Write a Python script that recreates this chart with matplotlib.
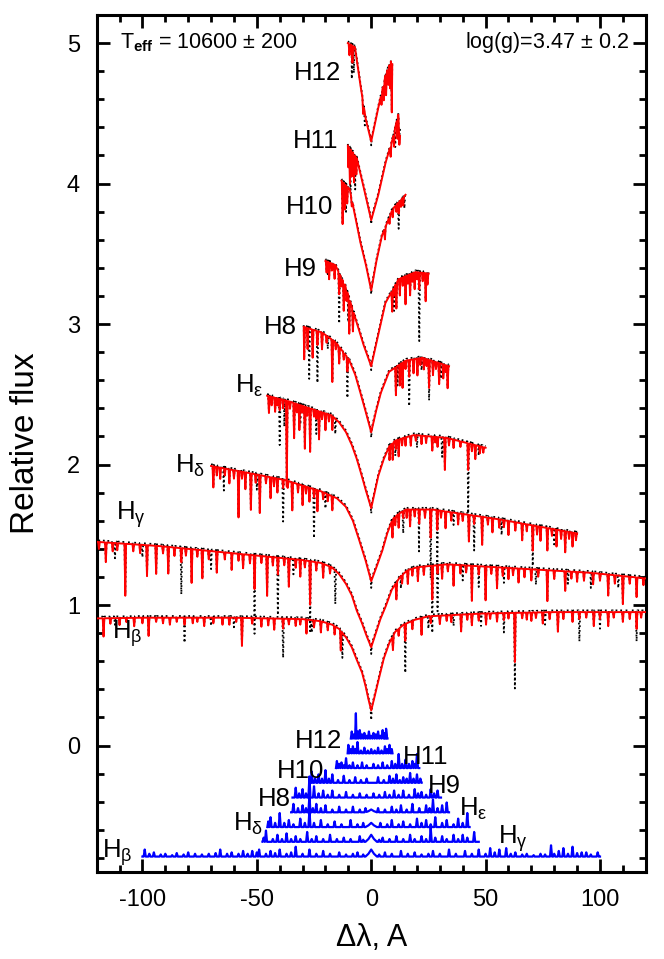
import numpy as np
import matplotlib.pyplot as plt
from matplotlib.ticker import MultipleLocator

plt.rcParams['font.family'] = ['Liberation Sans', 'DejaVu Sans']
plt.rcParams['mathtext.fontset'] = 'custom'
plt.rcParams['mathtext.rm'] = 'Liberation Sans'
plt.rcParams['mathtext.it'] = 'Liberation Sans:italic'
plt.rcParams['mathtext.bf'] = 'Liberation Sans:bold'
plt.rcParams['axes.unicode_minus'] = False

# ---- model profiles (smooth envelope) ----
hb_x = [-120, -100, -60, -30, -22, -17, -14, -11, -8.5, -6.3, -4, -2.4, -1.2, 0, 1.5, 3.1, 5.5, 7.9, 10.5, 14.1, 19, 25, 48.6, 80, 120]
hb_y = [0.905, 0.91, 0.91, 0.90, 0.885, 0.86, 0.83, 0.77, 0.70, 0.61, 0.52, 0.42, 0.33, 0.25, 0.35, 0.46, 0.62, 0.73, 0.81, 0.86, 0.895, 0.92, 0.94, 0.95, 0.95]
hg_x = [-120, -92.6, -61.2, -29.8, -22, -17.3, -14, -11, -8.5, -6.3, -4, -2, 0, 2, 4, 6.3, 9, 12.6, 16, 20.4, 33, 64.4, 95.8, 120]
hg_y = [1.45, 1.42, 1.37, 1.32, 1.30, 1.27, 1.22, 1.15, 1.07, 0.96, 0.87, 0.78, 0.70, 0.80, 0.90, 0.99, 1.11, 1.20, 1.25, 1.27, 1.29, 1.26, 1.23, 1.19]
hd_x = [-70, -53.5, -37.7, -22, -15, -11.1, -8, -5.2, -2.5, 0, 2.5, 4.9, 7, 9.3, 12, 15.2, 26.8, 56, 90]
hd_y = [1.99, 1.94, 1.89, 1.81, 1.76, 1.70, 1.60, 1.46, 1.32, 1.17, 1.28, 1.39, 1.51, 1.61, 1.65, 1.68, 1.68, 1.61, 1.51]
he_x = [-45.5, -36, -26.7, -17.3, -14, -11, -8.5, -6.3, -4.3, -2.4, 0, 1.5, 3.1, 5.5, 7.9, 10.5, 14.1, 18.8, 33, 50]
he_y = [2.49, 2.45, 2.40, 2.35, 2.30, 2.23, 2.14, 2.04, 1.93, 1.82, 1.69, 1.80, 1.92, 2.04, 2.13, 2.17, 2.19, 2.21, 2.19, 2.12]
h8_x = [-29.5, -21.5, -15.5, -9.8, -7, -4.7, -2.3, 0, 2.1, 4.2, 7.8, 15, 22.4, 34]
h8_y = [2.98, 2.94, 2.87, 2.75, 2.64, 2.51, 2.37, 2.23, 2.38, 2.51, 2.66, 2.74, 2.76, 2.70]
h9_x = [-20, -15.7, -11.3, -6.9, -3.3, 0, 2.6, 6.2, 12, 19.3, 25.1]
h9_y = [3.45, 3.42, 3.27, 3.04, 2.85, 2.70, 2.89, 3.15, 3.32, 3.37, 3.36]
h10_x = [-13, -9.4, -4.7, -2.3, 0, 2.3, 4.7, 9.4, 15]
h10_y = [4.02, 3.96, 3.58, 3.42, 3.24, 3.45, 3.63, 3.82, 3.92]
h11_x = [-10.2, -6.3, -3.1, 0, 3.1, 6.3, 9.4, 11.8, 12.6]
h11_y = [4.27, 4.18, 3.96, 3.74, 3.92, 4.15, 4.32, 4.49, 4.34]
h12_x = [-10.2, -7.1, -4.7, -2.4, 0, 3.1, 6.3, 8.6, 9.2]
h12_y = [5.0, 4.97, 4.70, 4.46, 4.30, 4.54, 4.77, 4.87, 4.85]

# ---- metal lines: (position, depth) for model (red) and extra ones in the observed (dotted) ----
hb_dips = [(-117, 0.13), (-114, 0.04), (-110, 0.05), (-107, 0.03), (-103.6, 0.06), (-100, 0.04), (-97.3, 0.13), (-94, 0.03), (-91, 0.04), (-88, 0.05), (-85, 0.03), (-81.6, 0.05), (-78, 0.04), (-76, 0.03), (-73, 0.06), (-69, 0.04), (-65, 0.05), (-62, 0.05), (-59, 0.03), (-56.5, 0.2), (-52, 0.04), (-48, 0.06), (-45, 0.05), (-42.4, 0.08), (-38.5, 0.07), (-36, 0.04), (-33, 0.05), (-31, 0.04), (-28.3, 0.1), (-25, 0.05), (-22, 0.08), (-19, 0.05), (-16, 0.06), (-13.3, 0.14), (9.5, 0.1), (12, 0.05), (14.9, 0.12), (18, 0.06), (22, 0.12), (26, 0.05), (30, 0.06), (33, 0.04), (35, 0.05), (39.3, 0.12), (42, 0.04), (44, 0.08), (47, 0.05), (50.2, 0.08), (52, 0.04), (55, 0.06), (58, 0.05), (60, 0.04), (62.8, 0.35), (66, 0.04), (68, 0.05), (70, 0.06), (72, 0.04), (75, 0.08), (78, 0.05), (81.6, 0.14), (84, 0.05), (88, 0.07), (91, 0.05), (94, 0.04), (97.3, 0.1), (100, 0.05), (103.6, 0.1), (106, 0.04), (110, 0.07), (113, 0.05), (116, 0.12), (118, 0.04)]
hb_obs = [(-112, 0.06), (-81.6, 0.14), (-70, 0.07), (-60, 0.08), (-38.5, 0.22), (-26, 0.1), (-12.6, 0.19), (0, 0.08), (14.9, 0.24), (25, 0.1), (36, 0.09), (48, 0.1), (58, 0.1), (62.8, 0.2), (76, 0.1), (91, 0.17), (100, 0.08), (116, 0.1)]
hg_dips = [(-119, 0.05), (-116, 0.14), (-113, 0.06), (-111, 0.05), (-107.5, 0.37), (-104, 0.05), (-101, 0.06), (-98, 0.22), (-94, 0.2), (-91, 0.05), (-88.7, 0.19), (-86, 0.06), (-83, 0.1), (-81, 0.05), (-78.5, 0.24), (-76, 0.05), (-73.8, 0.2), (-71, 0.06), (-67.5, 0.15), (-64, 0.05), (-61, 0.12), (-58, 0.05), (-56, 0.1), (-53, 0.06), (-51, 0.24), (-48, 0.05), (-45.5, 0.28), (-43, 0.06), (-40.8, 0.12), (-38, 0.05), (-36, 0.2), (-33, 0.06), (-31, 0.12), (-29, 0.05), (-26.7, 0.31), (-24, 0.06), (-21, 0.1), (-18, 0.05), (11, 0.12), (13.5, 0.06), (16, 0.1), (18, 0.05), (20.4, 0.1), (23, 0.06), (26.7, 0.24), (29, 0.06), (31, 0.1), (33.5, 0.05), (36, 0.15), (39, 0.06), (41.5, 0.05), (44, 0.25), (47, 0.06), (50, 0.24), (52.5, 0.05), (55, 0.15), (57.5, 0.06), (60, 0.08), (62, 0.05), (64.4, 0.1), (67, 0.06), (70, 0.08), (73, 0.05), (77, 0.22), (80, 0.06), (84.8, 0.14), (87.5, 0.05), (90, 0.07), (93, 0.06), (97, 0.08), (100, 0.05), (103.6, 0.15), (106.5, 0.06), (110, 0.2), (113, 0.05), (116, 0.14), (119, 0.05)]
hg_obs = [(-112, 0.12), (-100, 0.1), (-83, 0.24), (-70, 0.14), (-51, 0.33), (-40.8, 0.3), (-34, 0.12), (-26.7, 0.2), (-15.7, 0.25), (0, 0.06), (13, 0.1), (26.7, 0.25), (29, 0.28), (40, 0.12), (47, 0.1), (58, 0.12), (72, 0.12), (86, 0.1), (96, 0.12), (108, 0.1)]
hd_dips = [(-69, 0.15), (-67.5, 0.06), (-66, 0.08), (-64, 0.05), (-62, 0.1), (-60, 0.06), (-58, 0.33), (-56.5, 0.05), (-55, 0.12), (-52.6, 0.26), (-50.5, 0.06), (-48.7, 0.27), (-46, 0.05), (-44, 0.15), (-42.5, 0.06), (-41, 0.1), (-38.5, 0.06), (-36.5, 0.05), (-34.5, 0.2), (-32, 0.06), (-30, 0.14), (-28.5, 0.05), (-27, 0.1), (-25, 0.06), (-23.5, 0.15), (-21, 0.05), (-19, 0.05), (-17, 0.1), (9.3, 0.13), (10.5, 0.06), (12, 0.1), (14, 0.05), (15.5, 0.06), (17, 0.12), (19, 0.05), (21, 0.1), (23.5, 0.06), (26, 0.2), (28.9, 0.14), (30.5, 0.05), (32.5, 0.12), (35, 0.06), (38, 0.08), (40, 0.05), (42.7, 0.19), (45, 0.06), (48.5, 0.2), (51, 0.05), (53, 0.1), (56, 0.06), (58, 0.05), (60, 0.1), (63, 0.06), (66, 0.12), (68, 0.05), (70.6, 0.18), (72.5, 0.06), (74, 0.1), (77, 0.16), (79, 0.05), (81, 0.12), (83, 0.06), (84.8, 0.15), (86.5, 0.05), (88, 0.1), (89.5, 0.05)]
hd_obs = [(-64.4, 0.17), (-50, 0.12), (-38.5, 0.25), (-25, 0.3), (-20, 0.12), (0, 0.06), (14, 0.12), (20.9, 0.31), (26, 0.3), (28.9, 0.3), (36, 0.1), (45, 0.2), (57, 0.12), (70.6, 0.12), (80, 0.12)]
he_dips = [(-44.7, 0.12), (-43.5, 0.06), (-42, 0.1), (-41, 0.05), (-40, 0.08), (-38.5, 0.06), (-36.9, 0.61), (-35.5, 0.05), (-33.7, 0.25), (-32.5, 0.06), (-31.4, 0.18), (-30.2, 0.05), (-29, 0.3), (-28, 0.06), (-26.7, 0.31), (-25, 0.05), (-24, 0.06), (-22.8, 0.2), (-21.5, 0.05), (-20, 0.12), (-18.5, 0.05), (-17, 0.1), (8, 0.1), (9.4, 0.12), (10.8, 0.06), (12, 0.12), (13.5, 0.05), (15, 0.06), (17.3, 0.07), (19.5, 0.04), (22, 0.06), (24, 0.05), (26.7, 0.1), (28, 0.04), (29, 0.07), (32.2, 0.23), (34, 0.05), (36, 0.06), (39, 0.04), (42.4, 0.19), (44, 0.05), (45.5, 0.1), (47.5, 0.05), (49, 0.04)]
he_obs = [(-40, 0.26), (-38, 0.2), (-31, 0.15), (-24, 0.12), (-15.7, 0.12), (0, 0.05), (10.5, 0.12), (20, 0.1), (31, 0.15), (42.4, 0.32), (47, 0.08)]
h8_dips = [(-29.3, 0.23), (-27.8, 0.15), (-25.6, 0.2), (-23.5, 0.1), (-21.5, 0.12), (-19.5, 0.05), (-17, 0.3), (-15.5, 0.05), (-14, 0.12), (-12, 0.05), (-10.4, 0.1), (10.8, 0.2), (12.5, 0.15), (13.7, 0.18), (15, 0.06), (16.6, 0.12), (18.5, 0.1), (20.2, 0.12), (21.5, 0.05), (23, 0.08), (24.2, 0.05), (25.3, 0.2), (27, 0.1), (28.3, 0.05), (29.7, 0.15), (31.5, 0.1), (32.5, 0.05), (33.4, 0.16)]
h8_obs = [(-27.1, 0.37), (-23.5, 0.28), (-19, 0.1), (-10.4, 0.2), (0, 0.05), (11.5, 0.15), (16.6, 0.22), (22, 0.1), (25.3, 0.1), (30.5, 0.12)]
h9_dips = [(-19.5, 0.08), (-18.4, 0.12), (-17.2, 0.05), (-16, 0.1), (-14, 0.15), (-13, 0.06), (-12, 0.2), (-10.8, 0.08), (-9.6, 0.25), (-8, 0.15), (9.2, 0.15), (10, 0.06), (11, 0.18), (12.5, 0.12), (13.8, 0.06), (15, 0.2), (16, 0.06), (17, 0.15), (18, 0.06), (19, 0.12), (20, 0.05), (21, 0.12), (22.5, 0.06), (23.8, 0.2), (24.6, 0.08)]
h9_obs = [(-19, 0.1), (-14, 0.22), (-10, 0.2), (0, 0.04), (10, 0.12), (21, 0.38), (24, 0.1)]
h10_dips = [(-12.5, 0.3), (-11.5, 0.18), (-10.5, 0.12), (-8.5, 0.05), (6, 0.08), (8, 0.05), (9.4, 0.06), (11, 0.05), (12, 0.08), (13, 0.05), (14, 0.06)]
h10_obs = [(-11, 0.2), (0, 0.04), (12, 0.12), (14.5, 0.1)]
h11_dips = [(-10, 0.15), (-9.3, 0.25), (-8.5, 0.18), (-7.5, 0.2), (-6.5, 0.12), (8.5, 0.08), (10, 0.1), (11.5, 0.15), (12.3, 0.12)]
h11_obs = [(-9, 0.3), (-7, 0.25), (0, 0.04), (10.5, 0.15), (12, 0.12)]
h12_dips = [(-9.5, 0.08), (-8.2, 0.12), (-3.5, 0.08), (4.5, 0.08), (5.5, 0.12), (6.5, 0.15), (7.5, 0.12), (8.3, 0.18), (9.0, 0.35)]
h12_obs = [(-8.5, 0.25), (-7.6, 0.2), (-2.8, 0.1), (0, 0.04), (7, 0.1)]

# ---- residuals (blue): level, range, central bump and spikes ----
res_level = [-0.79, -0.685, -0.58, -0.475, -0.37, -0.265, -0.16, -0.055, 0.05]
res_lo = [-100, -47.5, -45.4, -35, -34.4, -26.4, -15.4, -10.3, -8.9]
res_hi = [100, 47, 43, 34, 30.5, 22, 21, 9.3, 7.1]
res_bump = [0.05, 0.05, 0.03, 0.02, 0.0, 0.0, 0.0, 0.0, 0.0]
res_hb = [(-99, .05), (-97, .02), (-95, .03), (-92, .015), (-90, .02), (-87, .01), (-85, .025), (-82, .015), (-80, .03), (-77, .02), (-74, .015), (-71, .02), (-68, .025), (-66, .05), (-63, .02), (-61, .03), (-58, .02), (-56, .04), (-54, .02), (-52, .04), (-50, .03), (-49, .05), (-46, .02), (-44, .04), (-42, .025), (-40, .05), (-37, .02), (-35, .03), (-33, .07), (-30, .02), (-27, .05), (-24, .02), (-21, .04), (-18, .02), (-14, .03), (-11, .015), (-8, .02), (-6, .03), (-3.5, .015), (3.5, .015), (6, .03), (9, .02), (13, .04), (16, .02), (19, .03), (22, .015), (25, .02), (27, .04), (30, .02), (34, .05), (37, .02), (41, .04), (44, .02), (47, .05), (50, .02), (52, .06), (54, .03), (56, .05), (59, .06), (61, .02), (63, .03), (66, .015), (68, .02), (71, .01), (74, .02), (76, .015), (78.6, .08), (80, .02), (82, .04), (84, .06), (86, .02), (88, .07), (90, .025), (92, .03), (94, .03), (96, .015), (99, .03)]
res_hg = [(-47, .03), (-46, .08), (-43, .02), (-41, .05), (-39, .02), (-37, .06), (-35, .02), (-33, .04), (-31, .02), (-28, .07), (-26, .02), (-24, .04), (-21, .02), (-18, .05), (-15, .02), (-12, .03), (-9, .02), (-5, .04), (-3.5, .015), (3.5, .015), (5, .03), (8, .02), (11, .04), (14, .02), (17, .05), (19, .02), (22, .04), (24, .02), (26, .1), (28, .03), (31, .04), (33, .02), (36, .05), (38, .02), (40, .05), (42, .03), (45, .07)]
res_hd = [(-45, .04), (-44, .07), (-42, .03), (-40, .1), (-38, .03), (-36, .05), (-34, .02), (-31, .06), (-29, .03), (-27, .12), (-25, .03), (-22, .05), (-19, .02), (-16, .04), (-13, .02), (-9, .05), (-6, .02), (-3.5, .03), (4, .03), (7, .02), (9, .05), (12, .02), (14, .04), (17, .02), (20, .06), (22, .03), (24, .05), (26, .02), (28, .07), (31, .03), (33, .05), (36, .02), (38, .06), (40, .03), (42, .1)]
res_he = [(-34, .06), (-32, .03), (-30, .05), (-28.5, .03), (-27, .12), (-25.5, .03), (-24, .06), (-22, .03), (-20, .05), (-17, .02), (-14, .04), (-11, .02), (-8, .04), (-5, .02), (-2.5, .03), (3, .03), (6, .02), (9, .04), (11, .02), (13, .05), (15.5, .02), (18, .06), (21, .03), (24, .05), (25.5, .03), (27, .09), (29, .03), (31, .05), (33, .07)]
res_h8 = [(-33, .07), (-31.5, .03), (-30, .06), (-28.5, .03), (-27, .15), (-25, .08), (-23, .03), (-21, .05), (-19, .02), (-17, .05), (-14, .02), (-11, .04), (-8, .02), (-5, .03), (-2, .02), (1, .03), (3.5, .02), (6, .04), (8, .02), (10, .05), (12, .02), (14, .05), (16.5, .02), (19, .06), (20.5, .03), (22, .04), (24, .02), (26, .06), (27.5, .03), (29, .05)]
res_h9 = [(-26, .08), (-24.5, .03), (-23, .06), (-21.5, .03), (-20, .09), (-18.5, .03), (-17, .06), (-14.5, .02), (-12, .05), (-9.5, .02), (-7, .04), (-4.5, .02), (-2, .03), (3, .04), (5.5, .02), (8, .05), (9.5, .03), (11, .06), (12.5, .02), (14, .04), (15.5, .03), (17, .07), (18.5, .03), (20, .06), (21.5, .03)]
res_h10 = [(-15, .05), (-14, .03), (-13, .04), (-12, .02), (-11, .07), (-9.5, .02), (-8, .04), (-6, .02), (-4, .04), (-2, .02), (1, .03), (3, .02), (5, .04), (7, .02), (9, .05), (10.5, .03), (12, .1), (13.5, .03), (15, .06), (16.5, .03), (18, .05), (19, .03), (20, .1)]
res_h11 = [(-10, .06), (-9, .03), (-8, .05), (-7, .03), (-6, .08), (-4.5, .02), (-3, .04), (-1.5, .02), (0, .03), (1.5, .02), (3, .04), (4.5, .02), (6, .05), (7, .03), (8, .06), (9, .03)]
res_h12 = [(-8.5, .05), (-7.5, .03), (-6.7, .18), (-6, .05), (-5, .06), (-4, .03), (-3, .04), (-2, .02), (-1, .05), (0, .02), (1, .04), (2, .03), (3, .05), (4, .02), (5, .06), (6, .04), (6.5, .07)]

# ---- labels: (text, x, baseline y) ----
top_labels = [('H12', -33.6, 4.74), ('H11', -34.2, 4.25), ('H10', -37.3, 3.786), ('H9', -38.0, 3.345),
              ('H8', -46.8, 2.93), (r'H$_{\mathrm{\varepsilon}}$', -59.7, 2.514), (r'H$_{\mathrm{\delta}}$', -85.7, 1.94),
              (r'H$_{\mathrm{\gamma}}$', -111.6, 1.61), (r'H$_{\mathrm{\beta}}$', -113.1, 0.76)]
res_labels = [('H12', -33.2, -0.02), ('H11', 14.0, -0.13), ('H10', -41.1, -0.23), ('H9', 24.9, -0.336),
              ('H8', -49.6, -0.43), (r'H$_{\mathrm{\varepsilon}}$', 38.4, -0.50), (r'H$_{\mathrm{\delta}}$', -60.5, -0.607),
              (r'H$_{\mathrm{\gamma}}$', 55.3, -0.70), (r'H$_{\mathrm{\beta}}$', -117.8, -0.80)]


def add_dips(px, py, dips, hw=0.35):
    xs = list(px)
    for p, d in dips:
        xs += [p - hw, p, p + hw]
    xs = np.array(sorted(set(xs)))
    xs = xs[(xs >= px[0]) & (xs <= px[-1])]
    ys = np.interp(xs, px, py)
    for p, d in dips:
        ys[np.isclose(xs, p)] -= d
    return xs, ys


def residual(level, lo, hi, bump, spikes, hw=0.45):
    xs = [lo, hi]
    if bump > 0:
        xs += [-2.5, -1.2, 0, 1.2, 2.5]
    for p, h in spikes:
        xs += [p - hw, p, p + hw]
    xs = np.array(sorted(set(xs)))
    xs = xs[(xs >= lo) & (xs <= hi)]
    ys = np.full(len(xs), level, dtype=float)
    if bump > 0:
        ys += np.interp(xs, [-2.5, -1.2, 0, 1.2, 2.5], [0, bump * 0.4, bump, bump * 0.4, 0])
    for p, h in spikes:
        ys[np.isclose(xs, p)] += h
    return xs, ys


fig = plt.figure(figsize=(6.64, 9.59), dpi=100)
ax = fig.add_axes([0.1456, 0.0907, 0.8269, 0.8937])

profiles = [(hb_x, hb_y, hb_dips, hb_obs), (hg_x, hg_y, hg_dips, hg_obs), (hd_x, hd_y, hd_dips, hd_obs),
            (he_x, he_y, he_dips, he_obs), (h8_x, h8_y, h8_dips, h8_obs), (h9_x, h9_y, h9_dips, h9_obs),
            (h10_x, h10_y, h10_dips, h10_obs), (h11_x, h11_y, h11_dips, h11_obs), (h12_x, h12_y, h12_dips, h12_obs)]

for px, py, dm, do in profiles:
    ox, oy = add_dips(px, py, dm + do)
    ax.plot(ox, oy + 0.012, color='k', lw=1.3, linestyle=(0, (1, 1.6)), zorder=2)
    mx, my = add_dips(px, py, dm)
    ax.plot(mx, my, color='#ff0000', lw=1.4, zorder=3)

spikes_all = [res_hb, res_hg, res_hd, res_he, res_h8, res_h9, res_h10, res_h11, res_h12]
for lev, lo, hi, bump, sp in zip(res_level, res_lo, res_hi, res_bump, spikes_all):
    rx, ry = residual(lev, lo, hi, bump, sp)
    ax.plot(rx, ry, color='#0000ff', lw=1.6, zorder=3)

for txt, x, y in top_labels + res_labels:
    ax.text(x, y, txt, fontsize=18.5, ha='left', va='baseline', zorder=5)

ax.text(0.043, 0.961, r'T$_{\mathbf{eff}}$ = 10600 $\pm$ 200', transform=ax.transAxes,
        fontsize=15.5, ha='left', va='baseline')
ax.text(0.9685, 0.961, r'log(g)=3.47 $\pm$ 0.2', transform=ax.transAxes,
        fontsize=15.5, ha='right', va='baseline')

ax.set_xlim(-120, 120)
ax.set_ylim(-0.9, 5.2)
ax.xaxis.set_major_locator(MultipleLocator(50))
ax.xaxis.set_minor_locator(MultipleLocator(10))
ax.yaxis.set_major_locator(MultipleLocator(1))
ax.yaxis.set_minor_locator(MultipleLocator(0.2))
ax.tick_params(which='both', direction='in', top=True, right=True, width=2.0, labelsize=17)
ax.tick_params(which='major', length=9.5)
ax.tick_params(which='minor', length=5)
ax.tick_params(axis='y', pad=12)
ax.tick_params(axis='x', pad=12)
for s in ax.spines.values():
    s.set_linewidth(2.2)

fig.text(25 / 664, 1 - 443 / 959, 'Relative flux', rotation=90, ha='center', va='center', fontsize=24)
fig.text(372 / 664, 1 - 938 / 959, 'Δλ, A', ha='center', va='center', fontsize=22)

fig.savefig('out.png', dpi=100)
